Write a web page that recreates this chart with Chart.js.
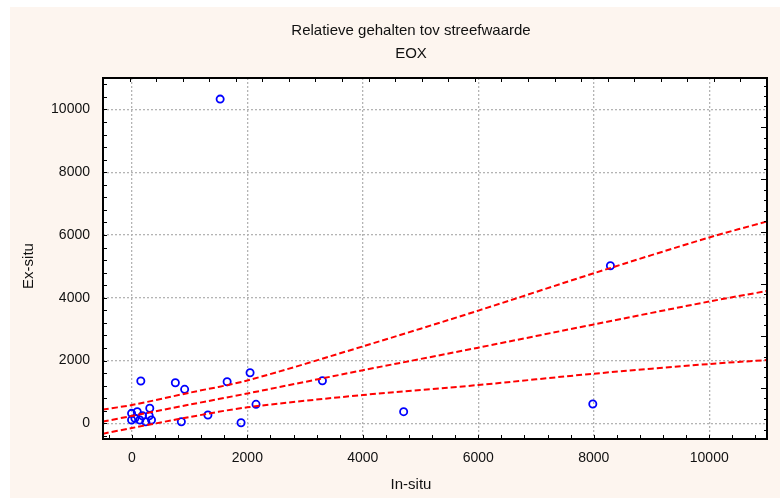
<!DOCTYPE html>
<html>
<head>
<meta charset="utf-8">
<script src="https://cdn.jsdelivr.net/npm/chart.js@4"></script>
<style>
  html, body { margin: 0; padding: 0; background: #ffffff; }
  #wrap { width: 780px; height: 498px; position: relative; }
</style>
</head>
<body>
<div id="wrap"><canvas id="c" width="780" height="498"></canvas></div>
<script>
// Measured samples: in-situ vs ex-situ EOX, relative to target value
const inSitu = [155, 753, 914, 1650, 2047, 2150, 1317, 1891, 857, 4707, 7983, 8288, 1529, 3300,
                -5, 93, -5, 138, 184, 310, 300, 340, 241, 52];
const exSitu = [1347, 1293, 1083, 1325, 1611, 605, 264, 19, 51, 370, 615, 5019, 10328, 1357,
                317, 369, 105, 105, 242, 478, 242, 105, 51, 159];

// Regression line with its upper and lower band
const bandX   = [-500, 0, 1000, 2000, 4000, 6000, 8000, 10000, 11000];
const fitY    = [55, 235, 595, 950, 1690, 2410, 3150, 3880, 4215];
const upperY  = [440, 583, 975, 1365, 2450, 3590, 4780, 5920, 6430];
const lowerY  = [-330, -150, 200, 510, 901, 1220, 1580, 1889, 2016];

// Axis tick labels
const xTickValues = [0, 2000, 4000, 6000, 8000, 10000];
const yTickValues = [0, 2000, 4000, 6000, 8000, 10000];

const titleLines = ['Relatieve gehalten tov streefwaarde', 'EOX'];
const xTitle = 'In-situ';
const yTitle = 'Ex-situ';

const FONT = '"Liberation Sans", Arial, sans-serif';
const CREAM = '#fdf5ef';
const GRID = '#b4b4b4';

const toPts = (xs, ys) => xs.map((x, i) => ({ x: x, y: ys[i] }));
const plainNumber = v => String(v);

const lineStyle = {
  type: 'scatter',
  showLine: true,
  borderColor: '#ff0000',
  borderWidth: 2,
  borderDash: [6, 3],
  pointRadius: 0,
  pointHoverRadius: 0,
  fill: false,
  tension: 0.3
};

// Backdrop, frame, inward tick marks and the text around the plot
const decor = {
  id: 'decor',
  beforeDraw(chart) {
    const { ctx, chartArea: a, width, height } = chart;
    ctx.save();
    ctx.fillStyle = '#ffffff';
    ctx.fillRect(0, 0, width, height);
    ctx.fillStyle = CREAM;
    ctx.fillRect(10, 7, width - 10, height - 7);
    ctx.fillStyle = '#ffffff';
    ctx.fillRect(a.left, a.top, a.right - a.left, a.bottom - a.top);
    ctx.restore();
  },
  afterDraw(chart) {
    const { ctx, chartArea: a } = chart;
    const xs = chart.scales.x, ys = chart.scales.y;
    ctx.save();
    ctx.strokeStyle = '#000000';
    ctx.lineWidth = 1;
    ctx.beginPath();
    // bottom and left: every 400
    for (let v = -400; v <= 10800; v += 400) {
      const px = Math.round(xs.getPixelForValue(v)) + 0.5;
      ctx.moveTo(px, a.bottom); ctx.lineTo(px, a.bottom - 4);
      const py = Math.round(ys.getPixelForValue(v)) + 0.5;
      ctx.moveTo(a.left, py); ctx.lineTo(a.left + 4, py);
    }
    // top: its own spacing
    for (let v = -40; v <= 11000; v += 460) {
      const px = Math.round(xs.getPixelForValue(v)) + 0.5;
      ctx.moveTo(px, a.top); ctx.lineTo(px, a.top + 4);
    }
    // right: minor and major marks
    let k = 0;
    for (let v = -530; v <= 11000; v += 332, k++) {
      if (v < -500) continue;
      const py = Math.round(ys.getPixelForValue(v)) + 0.5;
      const len = (k % 5 === 0) ? 6 : 3;
      ctx.moveTo(a.right, py); ctx.lineTo(a.right - len, py);
    }
    ctx.stroke();

    ctx.lineWidth = 2;
    ctx.strokeRect(a.left, a.top, a.right - a.left, a.bottom - a.top);

    ctx.fillStyle = '#111111';
    ctx.textAlign = 'center';
    ctx.textBaseline = 'alphabetic';
    ctx.font = '15px ' + FONT;
    const cx = 411;
    ctx.fillText(titleLines[0], cx, 35);
    ctx.fillText(titleLines[1], cx, 58);
    ctx.fillText(xTitle, cx, 489);
    ctx.translate(33, 266);
    ctx.rotate(-Math.PI / 2);
    ctx.fillText(yTitle, 0, 0);
    ctx.restore();
  }
};

new Chart(document.getElementById('c'), {
  type: 'scatter',
  data: {
    datasets: [
      Object.assign({ data: toPts(bandX, upperY) }, lineStyle),
      Object.assign({ data: toPts(bandX, fitY) }, lineStyle),
      Object.assign({ data: toPts(bandX, lowerY) }, lineStyle),
      {
        data: toPts(inSitu, exSitu),
        pointStyle: 'circle',
        pointRadius: 3.6,
        pointBorderWidth: 1.8,
        pointBorderColor: '#0000ff',
        pointBackgroundColor: 'rgba(255,255,255,0)',
        showLine: false
      }
    ]
  },
  options: {
    responsive: false,
    animation: false,
    devicePixelRatio: 1,
    layout: { padding: { left: 0, right: 13, top: 78, bottom: 0 } },
    plugins: { legend: { display: false }, tooltip: { enabled: false }, title: { display: false } },
    scales: {
      x: {
        type: 'linear',
        min: -500, max: 11000,
        afterBuildTicks: s => { s.ticks = xTickValues.map(v => ({ value: v })); },
        afterFit: s => { s.height = 59; },
        border: { display: false, dash: [2, 2] },
        grid: { color: GRID, lineWidth: 1.3, drawTicks: false },
        ticks: { color: '#111111', font: { family: FONT, size: 14 }, padding: 11, maxRotation: 0,
                 callback: plainNumber }
      },
      y: {
        type: 'linear',
        min: -500, max: 11000,
        afterBuildTicks: s => { s.ticks = yTickValues.map(v => ({ value: v })); },
        afterFit: s => { s.width = 103; },
        border: { display: false, dash: [2, 2] },
        grid: { color: GRID, lineWidth: 1.3, drawTicks: false },
        ticks: { color: '#111111', font: { family: FONT, size: 14 }, padding: 13,
                 callback: plainNumber }
      }
    }
  },
  plugins: [decor]
});
</script>
</body>
</html>
